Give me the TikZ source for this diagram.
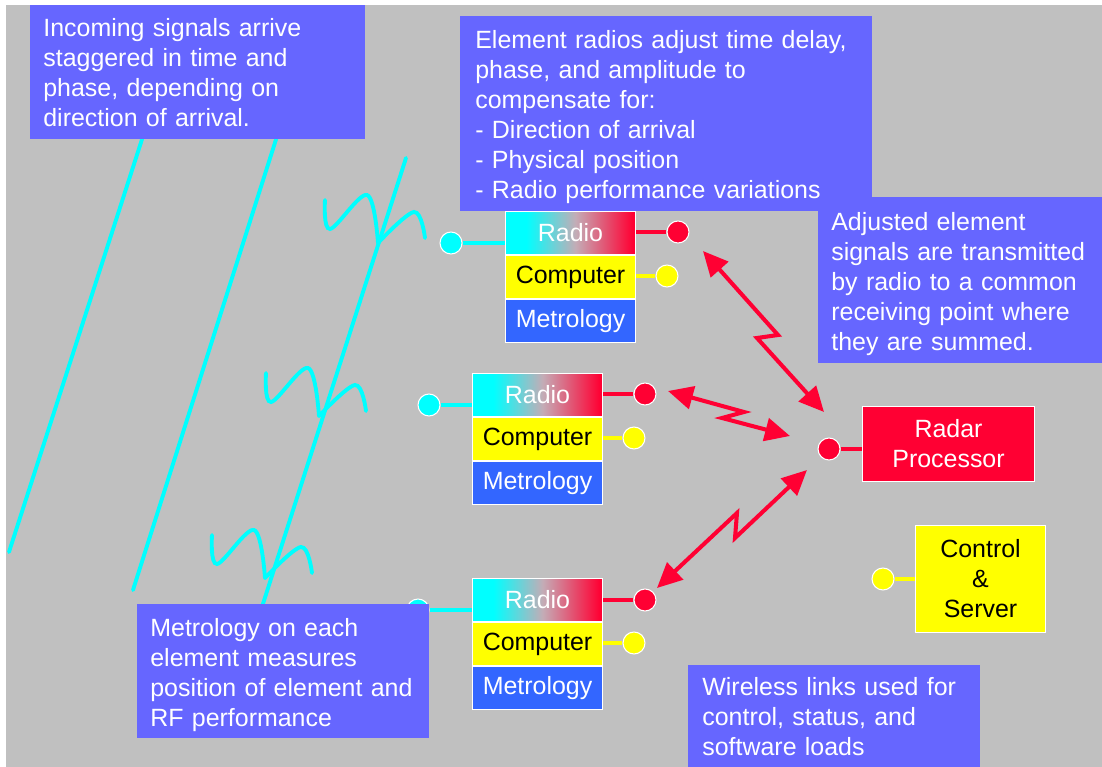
\documentclass[tikz,border=0pt]{standalone}
\usepackage{fontspec}
\setmainfont{Liberation Sans}
\usetikzlibrary{positioning,arrows.meta}

\definecolor{bggray}{RGB}{192,192,192}
\definecolor{noteblue}{RGB}{102,102,255}
\definecolor{metroblue}{RGB}{51,102,255}
\definecolor{radred}{RGB}{255,0,51}
\definecolor{radmid}{RGB}{196,172,182}
\definecolor{sigcyan}{RGB}{0,255,255}
\definecolor{cpuyellow}{RGB}{255,255,0}
\pgfdeclarehorizontalshading{radioshade}{100bp}{color(0bp)=(sigcyan); color(33bp)=(sigcyan); color(52bp)=(radmid); color(74bp)=(radred); color(100bp)=(radred)}
\newcommand{\notefont}{\fontsize{14.2pt}{17.07pt}\selectfont}

\tikzset{
  layer/.style={draw=white, line width=0.6pt, minimum width=2.6cm, minimum height=0.86cm, inner sep=0pt, font=\notefont},
  radiobox/.style={layer, shade, shading=radioshade, text=white},
  cpubox/.style={layer, fill=cpuyellow, text=black},
  metrobox/.style={layer, fill=metroblue, text=white},
  term/.style={circle, draw=white, line width=0.6pt, minimum size=0.44cm, inner sep=0pt},
  note/.style={fill=noteblue, text=white, anchor=north west, align=left, inner ysep=0pt, font=\notefont},
  wire/.style={line width=2pt},
  wave/.style={sigcyan, line width=2.2pt, line cap=round},
  link/.style={radred, line width=2.3pt, arrows={Triangle[length=5mm,width=4.6mm]-Triangle[length=5mm,width=4.6mm]}}
}

\begin{document}
\begin{tikzpicture}[x=0.02cm, y=-0.02cm]
\useasboundingbox (0,0) rectangle (1102,767);
\fill[bggray] (6,5) rectangle (1102,767);

% wavefronts
\draw[wave] (145,130) -- (9,552);
\draw[wave] (279,130) -- (133,590);
\draw[wave] (406,158) -- (261,610);
\foreach \wx/\wy in {325/200, 266/373, 212/535} {
  \draw[wave, shift={(\wx,\wy)}] plot[smooth, tension=0.6] coordinates {(0,0) (5,29) (42,-5) (53,43)};
  \draw[wave, shift={(\wx,\wy)}] plot[smooth, tension=0.6] coordinates {(53,43) (89,12) (100,38)};
}

% element 1
\node[radiobox, anchor=north west] (radio1) at (505,211) {Radio};
\node[cpubox, below=0pt of radio1] (cpu1) {Computer};
\node[metrobox, below=0pt of cpu1] (metro1) {Metrology};
\node[term, fill=sigcyan] (ant1) at (451,243) {};
\node[term, fill=radred] (tx1) at (678,232) {};
\node[term, fill=cpuyellow] (io1) at (667,276) {};
\draw[wire, sigcyan] (ant1) -- (ant1 -| radio1.west);
\draw[wire, radred] (radio1.east |- tx1) -- (tx1);
\draw[wire, cpuyellow] (cpu1.east |- io1) -- (io1);

% element 2
\node[radiobox, anchor=north west] (radio2) at (472,373) {Radio};
\node[cpubox, below=0pt of radio2] (cpu2) {Computer};
\node[metrobox, below=0pt of cpu2] (metro2) {Metrology};
\node[term, fill=sigcyan] (ant2) at (429,405) {};
\node[term, fill=radred] (tx2) at (645,394) {};
\node[term, fill=cpuyellow] (io2) at (634,438) {};
\draw[wire, sigcyan] (ant2) -- (ant2 -| radio2.west);
\draw[wire, radred] (radio2.east |- tx2) -- (tx2);
\draw[wire, cpuyellow] (cpu2.east |- io2) -- (io2);

% element 3
\node[radiobox, anchor=north west] (radio3) at (472,578) {Radio};
\node[cpubox, below=0pt of radio3] (cpu3) {Computer};
\node[metrobox, below=0pt of cpu3] (metro3) {Metrology};
\node[term, fill=sigcyan] (ant3) at (418,610) {};
\node[term, fill=radred] (tx3) at (645,600) {};
\node[term, fill=cpuyellow] (io3) at (634,643) {};
\draw[wire, sigcyan] (ant3) -- (ant3 -| radio3.west);
\draw[wire, radred] (radio3.east |- tx3) -- (tx3);
\draw[wire, cpuyellow] (cpu3.east |- io3) -- (io3);

% processor and server
\node[draw=white, line width=0.6pt, fill=radred, text=white, font=\notefont, align=center,
  anchor=north west, minimum width=3.44cm, minimum height=1.5cm] (radar) at (862,406) {Radar\\Processor};
\node[term, fill=radred] (rx) at (829,449) {};
\draw[wire, radred] (rx) -- (radar.west |- rx);
\node[draw=white, line width=0.6pt, fill=cpuyellow, font=\notefont, align=center,
  anchor=north west, minimum width=2.6cm, minimum height=2.14cm] (server) at (915,525) {Control\\\&\\Server};
\node[term, fill=cpuyellow] (ctl) at (883,579) {};
\draw[wire, cpuyellow] (ctl) -- (server.west |- ctl);

% radio links
\coordinate (l1a) at (703,251); \coordinate (l1b) at (824,412);
\coordinate (l2a) at (668,391); \coordinate (l2b) at (790,436);
\coordinate (l3a) at (657,588); \coordinate (l3b) at (807,470);
\draw[link] (l1a) -- (778,335) -- (757,338) -- (l1b);
\draw[link] (l2a) -- (744,412) -- (722,418) -- (l2b);
\draw[link] (l3a) -- (737,513) -- (735,538) -- (l3b);

% notes
\node[note, inner xsep=0.26cm, text width=6.18cm, minimum height=2.68cm] (arrive) at (30,5)
  {Incoming signals arrive\\staggered in time and\\phase, depending on\\direction of arrival.};
\node[note, inner xsep=0.3cm, text width=7.64cm, minimum height=3.9cm] (adjust) at (460,16)
  {\rule{0pt}{14pt}Element radios adjust time delay,\\phase, and amplitude to\\compensate for:\\- Direction of arrival\\- Physical position\\- Radio performance variations};
\node[note, inner xsep=0.26cm, text width=5.16cm, minimum height=3.32cm] (summed) at (818,197)
  {\rule{0pt}{14pt}Adjusted element\\signals are transmitted\\by radio to a common\\receiving point  where\\they are summed.};
\node[note, inner xsep=0.26cm, text width=5.32cm, minimum height=2.68cm] (measure) at (137,604)
  {\rule{0pt}{14pt}Metrology on each\\element measures\\position of element and\\RF performance};
\node[note, inner xsep=0.28cm, text width=5.28cm, minimum height=2.04cm] (wireless) at (688,665)
  {Wireless links used for\\control, status, and\\software loads};
\end{tikzpicture}
\end{document}
